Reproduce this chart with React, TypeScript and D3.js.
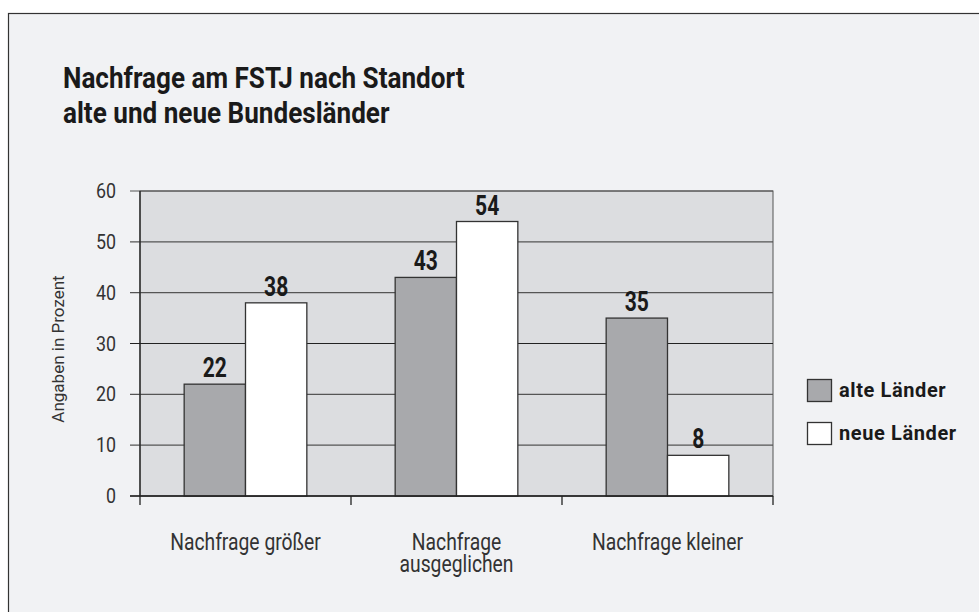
import React from "react";
import * as d3 from "d3";

const categories = ["Nachfrage größer", "Nachfrage ausgeglichen", "Nachfrage kleiner"];
const categoryLines = [["Nachfrage größer"], ["Nachfrage", "ausgeglichen"], ["Nachfrage kleiner"]];
const seriesNames = ["alte Länder", "neue Länder"];
const alteLaender = [22, 43, 35];
const neueLaender = [38, 54, 8];
const yTicks = [0, 10, 20, 30, 40, 50, 60];

const W = 979;
const H = 612;
const FONT = "Roboto, 'Liberation Sans', sans-serif";

// Roboto squeezed horizontally to mimic the narrow face of the original
function CText(props: {
  x: number;
  y: number;
  size: number;
  sx?: number;
  bold?: boolean;
  anchor?: "start" | "middle" | "end";
  fill?: string;
  rotate?: number;
  spacing?: number;
  children: React.ReactNode;
}) {
  const { x, y, size, sx = 0.8, bold, anchor = "start", fill = "#333", rotate = 0, spacing = 0, children } = props;
  return (
    <text
      transform={`translate(${x},${y}) rotate(${rotate}) scale(${sx},1)`}
      textAnchor={anchor}
      fontFamily={FONT}
      fontWeight={bold ? 700 : 400}
      fontSize={size}
      letterSpacing={spacing}
      fill={fill}
    >
      {children}
    </text>
  );
}

export default function App() {
  const plot = { left: 140, right: 773, top: 191, bottom: 496 };

  const x = d3.scaleBand().domain(categories).range([plot.left, plot.right]).padding(0);
  const inner = d3.scaleBand().domain(seriesNames).range([0, x.bandwidth()]).paddingInner(0).paddingOuter(0.72);
  const y = d3.scaleLinear().domain([0, 60]).range([plot.bottom, plot.top]);

  const fills = ["#a8a9ac", "#ffffff"];
  const series = [alteLaender, neueLaender];

  return (
    <svg width={W} height={H} style={{ position: "absolute", left: 0, top: 0, background: "#ffffff" }}>
      {/* frame */}
      <rect x={8.5} y={13.5} width={W} height={H} fill="#f1f2f4" stroke="#333" strokeWidth={1.2} />

      <CText x={63} y={88} size={29} sx={0.9} bold fill="#1a1a1a">
        Nachfrage am FSTJ nach Standort
      </CText>
      <CText x={63} y={123} size={29} sx={0.9} bold fill="#1a1a1a">
        alte und neue Bundesländer
      </CText>

      {/* plot area */}
      <rect x={plot.left} y={plot.top} width={plot.right - plot.left} height={plot.bottom - plot.top} fill="#dcdde0" stroke="#555" strokeWidth={1} />

      {yTicks.map((t) => (
        <g key={t}>
          <line x1={plot.left - 10} x2={plot.right} y1={y(t)} y2={y(t)} stroke={t === 30 ? "#222" : "#555"} strokeWidth={1.2} />
          <CText x={116} y={y(t) + 7} size={21} sx={0.85} anchor="end">
            {t}
          </CText>
        </g>
      ))}

      {/* bars */}
      {categories.map((c, ci) => (
        <g key={c} transform={`translate(${x(c)},0)`}>
          {seriesNames.map((s, si) => {
            const v = series[si][ci];
            const bx = inner(s)!;
            return (
              <g key={s}>
                <rect x={bx} y={y(v)} width={inner.bandwidth()} height={plot.bottom - y(v)} fill={fills[si]} stroke="#333" strokeWidth={1.3} />
                <CText x={bx + inner.bandwidth() / 2} y={y(v) - 7} size={27} sx={0.78} bold anchor="middle" fill="#1a1a1a">
                  {v}
                </CText>
              </g>
            );
          })}
        </g>
      ))}

      {/* axes */}
      <line x1={plot.left} x2={plot.left} y1={plot.top} y2={plot.bottom + 9} stroke="#222" strokeWidth={1.3} />
      <line x1={plot.left - 10} x2={plot.right} y1={plot.bottom} y2={plot.bottom} stroke="#222" strokeWidth={1.3} />
      {categories.map((c) => (
        <line key={c} x1={x(c)! + x.bandwidth()} x2={x(c)! + x.bandwidth()} y1={plot.bottom} y2={plot.bottom + 9} stroke="#222" strokeWidth={1.3} />
      ))}

      {categories.map((c, ci) =>
        categoryLines[ci].map((l, li) => (
          <CText key={l} x={x(c)! + x.bandwidth() / 2} y={550 + li * 22} size={23} sx={0.84} anchor="middle">
            {l}
          </CText>
        ))
      )}

      <CText x={64} y={349} size={17} sx={1} anchor="middle" rotate={-90}>
        Angaben in Prozent
      </CText>

      {/* legend */}
      {seriesNames.map((s, si) => (
        <g key={s} transform={`translate(807,${379 + si * 43})`}>
          <rect x={0.5} y={0.5} width={24} height={22} fill={fills[si]} stroke="#333" strokeWidth={1.3} />
          <CText x={32} y={18} size={20} sx={1} spacing={0.6} bold fill="#1a1a1a">
            {s}
          </CText>
        </g>
      ))}
    </svg>
  );
}
